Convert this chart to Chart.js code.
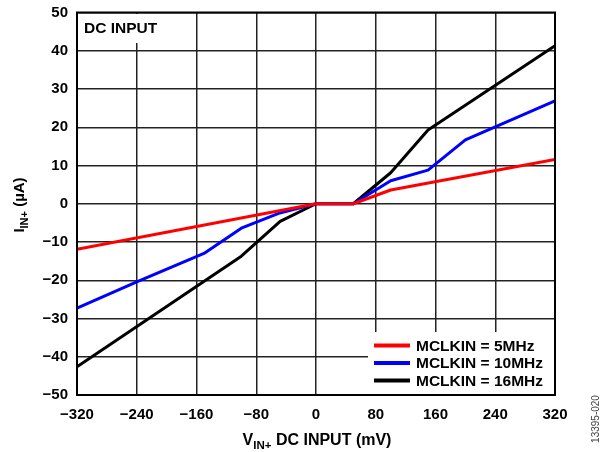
<!DOCTYPE html>
<html>
<head>
<meta charset="utf-8">
<script src="https://cdn.jsdelivr.net/npm/chart.js@4/dist/chart.umd.min.js"></script>
<style>
html,body{margin:0;padding:0;background:#fff;}
#wrap{width:608px;height:452px;position:relative;}
</style>
</head>
<body>
<div id="wrap"><canvas id="c" width="608" height="452"></canvas></div>
<script>
// ---- data ----
const seriesLabels = ["MCLKIN = 5MHz", "MCLKIN = 10MHz", "MCLKIN = 16MHz"];
const seriesColors = ["#ff0000", "#0000ff", "#000000"];

const x5 = [-320, 0, 50, 100, 320];
const y5 = [-11.9, 0, 0, 3.6, 11.6];

const x10 = [-320, -240, -150, -100, -50, 0, 50, 100, 150, 200, 320];
const y10 = [-27.3, -20.4, -13.0, -6.4, -2.5, 0, 0, 6.0, 8.8, 16.7, 26.9];

const x16 = [-320, -100, -48, 0, 50, 100, 150, 320];
const y16 = [-42.6, -13.7, -4.6, 0, 0, 8.1, 19.3, 41.3];

const xTicks = [-320, -240, -160, -80, 0, 80, 160, 240, 320];
const yTicks = [-50, -40, -30, -20, -10, 0, 10, 20, 30, 40, 50];

const boxLabel = "DC INPUT";
const figId = "13395-020";

function pts(xs, ys){ return xs.map((x,i)=>({x:x, y:ys[i]})); }
const FONT = "'Liberation Sans', Arial, Helvetica, sans-serif";
const fmt = v => String(v).replace('-', '\u2212');

const overlay = {
  id: 'overlay',
  afterDatasetsDraw(chart){
    const ctx = chart.ctx, ca = chart.chartArea;
    ctx.save();
    // top-left label box
    ctx.fillStyle = '#fff';
    ctx.fillRect(ca.left + 1.5, ca.top + 1.5, 92, 29);
    ctx.fillStyle = '#000';
    ctx.font = 'bold 15.5px ' + FONT;
    ctx.textBaseline = 'middle';
    ctx.textAlign = 'left';
    ctx.fillText(boxLabel, ca.left + 7, ca.top + 16);

    // legend box
    const lx = 368, ly = 332;
    ctx.fillStyle = '#fff';
    ctx.fillRect(lx, ly, ca.right - lx - 1, ca.bottom - ly - 1);
    chart.data.datasets.forEach((ds, i) => {
      const yy = 345.5 + i * 17.5;
      ctx.strokeStyle = ds.borderColor;
      ctx.lineWidth = 4;
      ctx.beginPath();
      ctx.moveTo(374, yy);
      ctx.lineTo(410, yy);
      ctx.stroke();
      ctx.fillStyle = '#000';
      ctx.font = 'bold 15.5px ' + FONT;
      ctx.textAlign = 'left';
      ctx.textBaseline = 'middle';
      ctx.fillText(ds.label, 416, yy + 1);
    });

    // plot border
    ctx.strokeStyle = '#000';
    ctx.lineWidth = 2;
    ctx.strokeRect(ca.left, ca.top, ca.right - ca.left, ca.bottom - ca.top);
    ctx.restore();
  },
  afterDraw(chart){
    const ctx = chart.ctx;
    ctx.save();
    ctx.fillStyle = '#000';
    ctx.textBaseline = 'alphabetic';
    // x title with subscript
    let big = 'bold 16px ' + FONT, small = 'bold 11.5px ' + FONT;
    const p1 = 'V', p2 = 'IN+', p3 = ' DC INPUT (mV)';
    ctx.font = big; const w1 = ctx.measureText(p1).width, w3 = ctx.measureText(p3).width;
    ctx.font = small; const w2 = ctx.measureText(p2).width;
    let x = 317 - (w1 + w2 + w3) / 2; const by = 445;
    ctx.textAlign = 'left';
    ctx.font = big; ctx.fillText(p1, x, by); x += w1;
    ctx.font = small; ctx.fillText(p2, x, by + 3.5); x += w2;
    ctx.font = big; ctx.fillText(p3, x, by);

    // y title rotated
    big = 'bold 15px ' + FONT; small = 'bold 11px ' + FONT;
    ctx.save();
    ctx.translate(24, 205);
    ctx.rotate(-Math.PI / 2);
    const q1 = 'I', q2 = 'IN+', q3 = ' (\u00b5A)';
    ctx.font = big; const v1 = ctx.measureText(q1).width, v3 = ctx.measureText(q3).width;
    ctx.font = small; const v2 = ctx.measureText(q2).width;
    let xx = -(v1 + v2 + v3) / 2;
    ctx.font = big; ctx.fillText(q1, xx, 0); xx += v1;
    ctx.font = small; ctx.fillText(q2, xx, 3.5); xx += v2;
    ctx.font = big; ctx.fillText(q3, xx, 0);
    ctx.restore();

    // figure id
    ctx.save();
    ctx.translate(599, 419);
    ctx.rotate(-Math.PI / 2);
    ctx.font = '10px ' + FONT;
    ctx.fillStyle = '#444';
    ctx.textAlign = 'center';
    ctx.fillText(figId, 0, 0);
    ctx.restore();
    ctx.restore();
  }
};

new Chart(document.getElementById('c'), {
  type: 'line',
  data: {
    datasets: [
      {label: seriesLabels[0], data: pts(x5, y5), borderColor: seriesColors[0]},
      {label: seriesLabels[1], data: pts(x10, y10), borderColor: seriesColors[1]},
      {label: seriesLabels[2], data: pts(x16, y16), borderColor: seriesColors[2]}
    ].map(d => Object.assign(d, {borderWidth: 3, pointRadius: 0, tension: 0, fill: false, borderJoinStyle: 'round'}))
  },
  options: {
    responsive: false,
    animation: false,
    events: [],
    layout: {padding: {left: 0, right: 53, top: 12.5, bottom: 0}},
    plugins: {legend: {display: false}, tooltip: {enabled: false}},
    scales: {
      x: {
        type: 'linear', min: -320, max: 320,
        afterBuildTicks: s => { s.ticks = xTicks.map(v => ({value: v})); },
        afterFit: s => { s.height = 57; s.paddingLeft = 0; s.paddingRight = 0; },
        grid: {color: '#222', lineWidth: 1.5, drawTicks: false},
        border: {display: false},
        ticks: {color: '#000', font: {family: FONT, size: 15, weight: 'bold'}, padding: 11, maxRotation: 0, callback: v => fmt(v)}
      },
      y: {
        type: 'linear', min: -50, max: 50,
        afterBuildTicks: s => { s.ticks = yTicks.map(v => ({value: v})); },
        afterFit: s => { s.width = 77; s.paddingTop = 0; s.paddingBottom = 0; },
        grid: {color: '#222', lineWidth: 1.5, drawTicks: false},
        border: {display: false},
        ticks: {color: '#000', font: {family: FONT, size: 15, weight: 'bold'}, padding: 9, callback: v => fmt(v)}
      }
    }
  },
  plugins: [overlay]
});
</script>
</body>
</html>
